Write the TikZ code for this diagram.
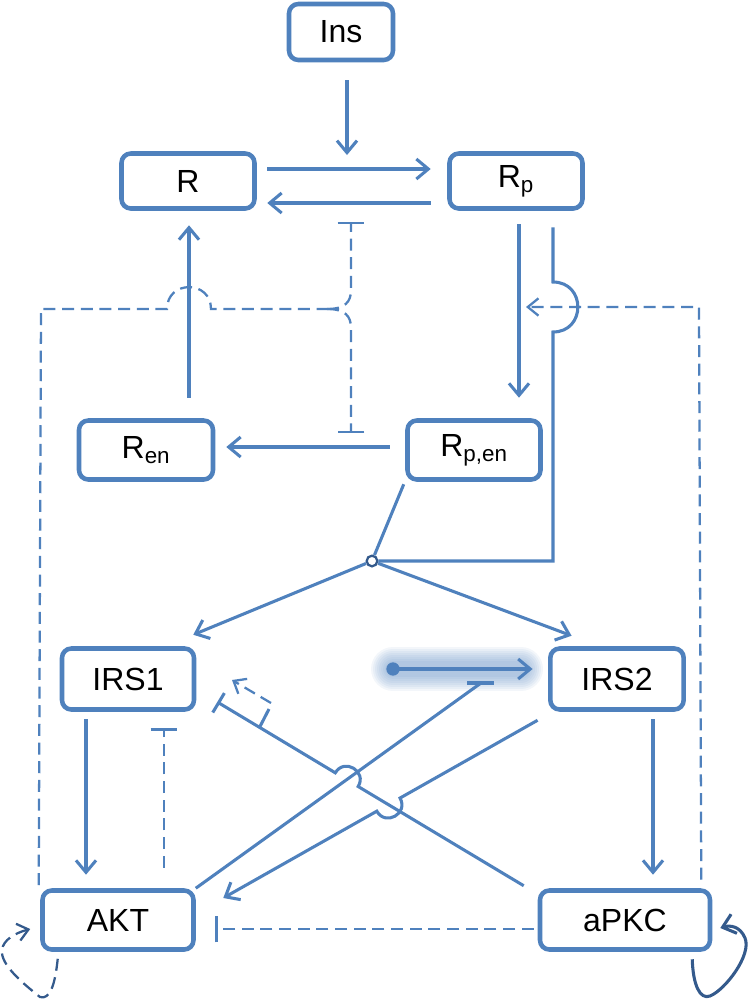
\documentclass[tikz,border=0pt]{standalone}
\usepackage{fontspec}
\setmainfont{Liberation Sans}
\usetikzlibrary{arrows.meta}
\usetikzlibrary{calc}

\definecolor{boxblue}{RGB}{79,129,189}
\definecolor{darkblue}{RGB}{52,90,140}

\tikzset{
  box/.style={draw=boxblue, line width=3.4pt, rounded corners=7pt, fill=white, inner sep=0pt, font=\fontsize{24}{28}\selectfont},
  link/.style={draw=boxblue, line width=2.3pt},
  act/.style={link, -{Straight Barb[length=9pt,width=15pt]}},
  inh/.style={link, -{Bar[width=17pt]}},
  dlink/.style={draw=boxblue, line width=1.7pt, dash pattern=on 9pt off 5pt},
  dact/.style={dlink, -{Straight Barb[length=8pt,width=13pt]}},
  dinh/.style={dlink, -{Bar[width=20pt]}},
  junc/.style={circle, draw=darkblue, line width=1.7pt, fill=white, inner sep=0pt, minimum size=8pt},
}

\begin{document}
\begin{tikzpicture}[x=0.75pt,y=0.75pt,yscale=-1,xscale=1]
\useasboundingbox (0,0) rectangle (750,1001);

%Shape: Rounded Rect
\node [box, minimum width=78pt, minimum height=42pt] (Ins) at (341,32) {Ins};
\node [box, minimum width=99.75pt, minimum height=41.25pt] (R) at (188,181) {R};
\node [box, minimum width=99.75pt, minimum height=41.25pt] (Rp) at (516,181) {R\textsubscript{p}};
\node [box, minimum width=100.5pt, minimum height=44.25pt] (Ren) at (146,450) {R\textsubscript{en}};
\node [box, minimum width=99.75pt, minimum height=44.25pt] (Rpen) at (474,450) {R\textsubscript{p,en}};
\node [box, minimum width=99pt, minimum height=45.75pt] (IRS1) at (128,679) {IRS1};
\node [box, minimum width=100pt, minimum height=45.75pt] (IRS2) at (617,679) {IRS2};
\node [box, minimum width=113.25pt, minimum height=44.25pt] (AKT) at (118,920) {AKT};
\node [box, minimum width=127.5pt, minimum height=44.25pt] (aPKC) at (625,920) {aPKC};

%Shape: Circle
\node [junc] (J) at (372,561) {};

%Straight Lines
\coordinate (kIns) at (347,155);
\draw [act] ($(Ins.south)+(6,18)$) -- (kIns);
\draw [act] ($(R.east)+(10.5,-12)$) -- ($(Rp.west)+(-16.5,-12)$);
\draw [act] ($(Rp.west)+(-16.5,22)$) -- ($(R.east)+(10.5,22)$);
\draw [act] ($(Rp.south)+(3,13.5)$) -- ($(Rpen.north)+(45,-20.5)$);
\draw [act] ($(Rpen.west)+(-15.5,-3)$) -- ($(Ren.east)+(11,-3)$);
\draw [act] ($(Ren.north)+(43,-20.5)$) -- ($(R.south)+(1,14.5)$);

%Straight Lines
\draw [link] ($(Rpen.south west)+(-1.5,2.5)$) -- (J);
\draw [link] ($(Rp.south)+(37,16.5)$) -- (553,282) to[bend right=90,looseness=1.7] (553,332) -- (553,561) -- (J);
\draw [act] (J) -- ($(IRS1.north east)+(-3,-11.5)$);
\draw [act] (J) -- ($(IRS2.north west)+(23.5,-10.5)$);
\draw [act] ($(IRS1.south)+(-42,7.5)$) -- ($(AKT.north)+(-32,-13.5)$);
\draw [act] ($(IRS2.south)+(36,7.5)$) -- ($(aPKC.north)+(28,-13.5)$);

%Dashed Lines
\draw [dinh] ($(AKT.north)+(46,-20.5)$) -- ($(IRS1.south)+(36,16.5)$);
\draw [dinh] ($(aPKC.west)+(-4,9)$) -- ($(AKT.east)+(19.5,9)$);
\coordinate (kRpen) at (526,307);
\draw [dact] ($(aPKC.north east)+(-11,-8.5)$) -- (699,307) -- (kRpen);
\coordinate (kRtop) at (351,222);
\coordinate (kRbot) at (351,433);
\draw [dlink] ($(AKT.north west)+(-1.5,-3)$) -- (41,309) -- (167,309) to[bend right=90,looseness=1.7] (211,309) -- (327,309);
\draw [dinh] (327,309) .. controls (345,309) and (351,302) .. (351,290) -- (kRtop);
\draw [dinh] (327,309) .. controls (345,309) and (351,316) .. (351,328) -- (kRbot);

%Glow
\coordinate (src) at (393,669);
\coordinate (kHi) at (481,683);
\foreach \w in {33,30,27,24,21,18,15,12}
  \draw [boxblue, line width=\w pt, line cap=round, opacity=0.07] (src) -- (521,669);
\draw [act] (src) -- ($(IRS2.west)+(-15.5,-10)$);
\fill [boxblue] (src) circle (5pt);

%Crossing Lines
\coordinate (p17a) at ($(IRS2.south west)+(-10.5,8.5)$);
\coordinate (p17b) at ($(AKT.east)+(27.5,-22)$);
\coordinate (p18a) at ($(aPKC.north west)+(-14,-2.5)$);
\coordinate (p18b) at ($(IRS1.east)+(21,23)$);
\coordinate (p19a) at (AKT.north east);
\coordinate (x17) at (intersection of p17a--p17b and p18a--p18b);
\coordinate (x18) at (intersection of p18a--p18b and p19a--kHi);
\draw [link] (p19a) -- (kHi);
\draw [link] ($(kHi)+(-14,0)$) -- ($(kHi)+(13,0)$);
\draw [inh] (p18a) -- ($(x18)!10pt!(p18a)$) to[bend left=90,looseness=1.7] ($(x18)!10pt!(p18b)$) -- (p18b);
\draw [act] (p17a) -- ($(x17)!10pt!(p17a)$) to[bend right=90,looseness=1.7] ($(x17)!10pt!(p17b)$) -- (p17b);

%Small dashed
\coordinate (kStub) at ($(p18a)!0.862!(p18b)$);
\draw [link] (kStub) -- (269,709);
\draw [dact] (271,703) -- (232,680);

%Curve Lines
\draw [darkblue, line width=1.7pt, dash pattern=on 9pt off 5pt, -{Straight Barb[length=8pt,width=13pt]}] ($(AKT.south west)+(17.5,7)$) .. controls (55,985) and (50,1000) .. (40,997) .. controls (25,985) and (0,965) .. (2,950) .. controls (3,940) and (15,933) .. ($(AKT.west)+(-10,9)$);
\draw [darkblue, line width=2.3pt, -{Straight Barb[length=9pt,width=15pt]}] ($(aPKC.south east)+(-20,7.5)$) .. controls (693,985) and (700,1000) .. (710,996) .. controls (725,990) and (752,955) .. (745,938) .. controls (740,926) and (730,925) .. ($(aPKC.east)+(8,8)$);

\end{tikzpicture}
\end{document}
